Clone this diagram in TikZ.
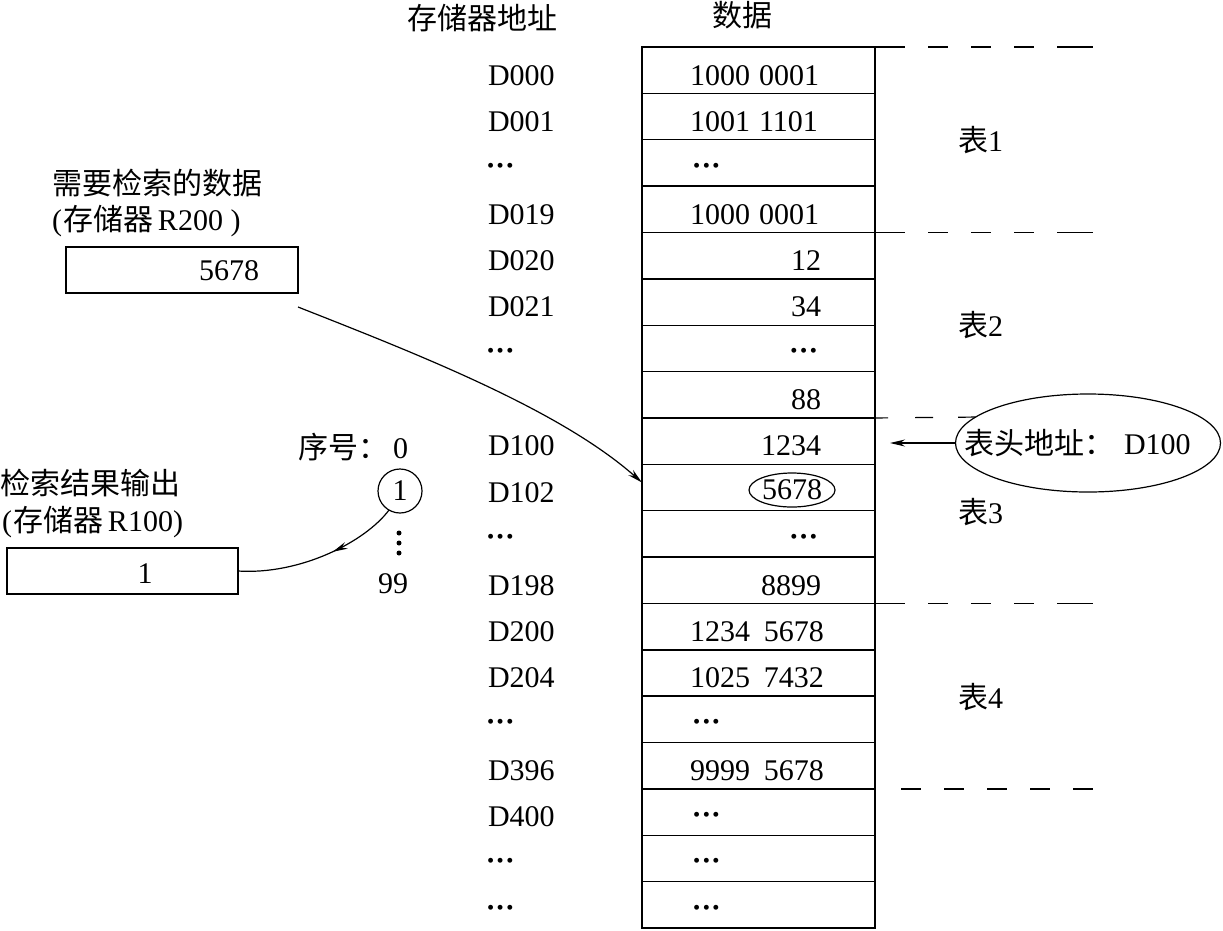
\documentclass[tikz,border=0pt]{standalone}
\usepackage{fontspec}
\setmainfont{Liberation Serif}
\newfontfamily\cjk{Noto Sans CJK SC}
\usetikzlibrary{arrows.meta,decorations.markings,shapes.geometric}
\newcommand\onedot{\scalebox{0.68}{\textbullet}}
\newcommand\mydots{\raisebox{5.5pt}{\onedot\hspace{2.6pt}\onedot\hspace{2.6pt}\onedot}}
\begin{document}
\begin{tikzpicture}[x=1pt,y=-1pt,line width=1.4pt,
  every node/.style={font=\fontsize{30}{34}\selectfont,inner sep=0pt,outer sep=0pt},
  bw/.style={anchor=base west},
  be/.style={anchor=base east},
  cell/.style={draw,minimum width=233pt,minimum height=46.37pt},
  boxn/.style={draw,minimum height=46pt},
  arr/.style={line width=1.2pt,-{Stealth[length=15pt,width=7pt,inset=5pt]}},
  sepline/.style={line width=1.2pt,dash pattern=on 30pt off 23pt on 20pt off 23pt on 20pt off 23pt on 20pt off 23pt on 40pt off 100pt},
  seplow/.style={line width=1.2pt,dash pattern=on 0pt off 26pt on 20pt off 23pt on 20pt off 23pt on 20pt off 23pt on 20pt off 23pt on 20pt off 100pt},
  sepshort/.style={line width=1.2pt,dash pattern=on 13pt off 27pt on 18pt off 25pt on 30pt off 100pt}]
\useasboundingbox (0,0) rectangle (1223,930);

% headers
\node[bw] (h1) at (407,29) {\cjk 存储器地址};
\node[bw] (h2) at (712,26) {\cjk 数据};

% table cells
\foreach \i in {0,...,18}
  \node[cell] (r\i) at (758.5,{47+46.37*(\i+0.5)}) {};

% addresses
\foreach \i/\a in {0/D000,1/D001,3/D019,4/D020,5/D021,8/D100,9/D102,11/D198,12/D200,13/D204,15/D396,16/D400}
  \node[bw] (a\i) at (488,{85+46.37*\i}) {\a};
\foreach \i in {2,6,10,14,17,18}
  \node[bw] (a\i) at (487,{85+46.37*\i}) {\mydots};

% data left aligned
\node[bw] (d0) at (690,85) {1000\hspace{9pt}0001};
\node[bw] (d1) at (690,{85+46.37}) {1001\hspace{9pt}1101};
\node[bw] (d2) at (693,{85+46.37*2}) {\mydots};
\node[bw] (d3) at (690,{85+46.37*3}) {1000\hspace{9pt}0001};
\node[bw] (d12) at (690,{85+46.37*12}) {1234\hspace{14pt}5678};
\node[bw] (d13) at (690,{85+46.37*13}) {1025\hspace{14pt}7432};
\node[bw] (d14) at (693,{85+46.37*14}) {\mydots};
\node[bw] (d15) at (690,{85+46.37*15}) {9999\hspace{14pt}5678};
\node[bw] (d16) at (693,{85+46.37*16}) {\mydots};
\node[bw] (d17) at (693,{85+46.37*17}) {\mydots};
\node[bw] (d18) at (693,{85+46.37*18}) {\mydots};
% data right aligned
\node[be] (d4) at (821,{85+46.37*4}) {12};
\node[be] (d5) at (821,{85+46.37*5}) {34};
\node[be] (d6) at (817,{85+46.37*6}) {\mydots};
\node[be] (d7) at (821,{85+46.37*7}) {88};
\node[be] (d8) at (821,{85+46.37*8}) {1234};
\node[draw,ellipse,line width=1.2pt,minimum width=86pt,minimum height=34pt] (d9) at (792,490) {5678};
\node[be] (d10) at (817,{85+46.37*10}) {\mydots};
\node[be] (d11) at (821,{85+46.37*11}) {8899};

% separators
\draw[sepline] (r0.north east) -- ++(218,0);
\draw[sepline] (r4.north east) -- ++(218,0);
\draw[sepline] (r12.north east) -- ++(218,0);
\draw[seplow] (r16.north east) -- ++(218,0);

% table names
\node[bw] (t1) at (958,151) {{\cjk 表}1};
\node[bw] (t2) at (958,336) {{\cjk 表}2};
\node[bw] (t3) at (958,523) {{\cjk 表}3};
\node[bw] (t4) at (958,708) {{\cjk 表}4};

% head address ellipse
\node[draw,ellipse,line width=1.2pt,minimum width=265pt,minimum height=98pt] (head) at (1088,443) {};
\node[bw] (headt) at (964,454) {{\cjk 表头地址：}\hspace{10pt}D100};
\draw[sepshort] (r8.north east) -- (head.167.6);
\coordinate (tip) at (890,443);
\draw[arr] (head.west) -- (tip);

% search data
\node[bw] (q1) at (52,194) {\cjk 需要检索的数据};
\node[bw] (q2) at (52,230) {(\hspace{2pt}{\cjk 存储器}\hspace{4pt}R200 )};
\node[boxn,minimum width=232pt] (boxA) at (182,270) {};
\node[be] (vA) at (259,280) {5678};
\draw[arr] ([yshift=-14pt]boxA.south east) .. controls (420,355) and (560,410) .. ([yshift=5pt]r9.west);

% index
\node[bw] (idx) at (298,458) {{\cjk 序号：}\hspace{5pt}0};
\node[draw,circle,line width=1.2pt,minimum size=44pt] (c1) at (400,491) {1};
\fill (399,533) circle (2.5);
\fill (399,543) circle (2.5);
\fill (399,553) circle (2.5);
\node[anchor=base] (n99) at (393,593) {99};

% result
\node[bw] (o1) at (0,494) {\cjk 检索结果输出};
\node[bw] (o2) at (2,531) {(\hspace{2pt}{\cjk 存储器}\hspace{4pt}R100)};
\node[boxn,minimum width=231pt] (boxB) at (122.5,571) {};
\node[anchor=base] (vB) at (145,583) {1};
\draw[line width=1.2pt,postaction={decorate},
  decoration={markings,mark=at position 0.42 with {\arrow{Stealth[length=15pt,width=7pt,inset=5pt]}}}]
  (c1.-120) .. controls (365,542) and (300,575) .. (boxB.east);
\end{tikzpicture}
\end{document}
